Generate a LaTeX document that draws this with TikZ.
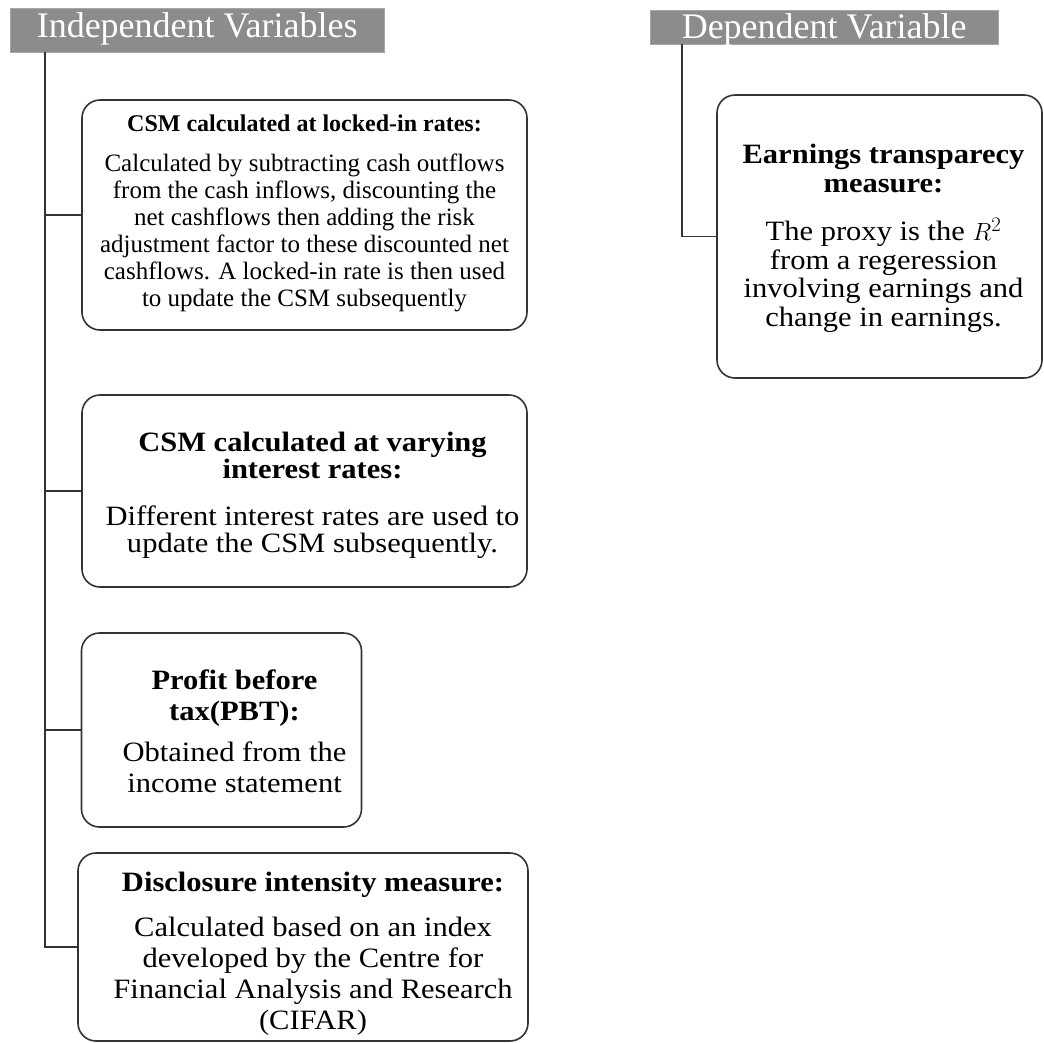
\documentclass[tikz,border=0pt]{standalone}
\usepackage{fontspec}
\setmainfont{Liberation Serif}
\newfontfamily\widefont{Liberation Serif}[FakeStretch=1.09]
\begin{document}
\begin{tikzpicture}[x=1pt,y=-1pt,
  hdr/.style={fill=black!45, draw=black!35, text=white, inner xsep=0pt, inner ysep=0pt, anchor=north west,
    font=\fontsize{36}{38}\selectfont},
  vbox/.style={draw=black!80, line width=1.6pt, rounded corners=18pt, inner sep=0pt},
  vtext/.style={align=center, inner sep=0pt},
  link/.style={draw=black!80, line width=1.3pt}
]
\useasboundingbox (0,0) rectangle (1044,1042);

\node[hdr, minimum width=374pt, minimum height=44pt, text height=25pt, text depth=10pt] (h1) at (10,8) {Independent Variables};
\node[hdr, minimum width=348pt, minimum height=34pt, text height=28pt, text depth=6pt] (h2) at (650,10) {Dependent Variable};

% boxes
\node[vbox, minimum width=445pt, minimum height=230pt] (b1) at (304.5,215) {};
\node[vbox, minimum width=445pt, minimum height=192pt] (b2) at (304.5,491) {};
\node[vbox, minimum width=280pt, minimum height=194pt] (b3) at (221.5,730) {};
\node[vbox, minimum width=450pt, minimum height=188pt] (b4) at (303,947) {};
\node[vbox, minimum width=325pt, minimum height=283pt] (b5) at (879.5,236.5) {};

% texts
\node[vtext, font=\fontsize{25}{27}\selectfont] (t1) at ([yshift=2pt]b1.center)
 {{\fontsize{24}{27}\selectfont\textbf{CSM calculated at locked-in rates:}}\\[13pt]
  Calculated by subtracting cash outflows\\ from the cash inflows, discounting the\\
  net cashflows then adding the risk\\ adjustment factor to these discounted net\\
  cashflows. A locked-in rate is then used\\ to update the CSM subsequently};

\node[vtext, font=\widefont\fontsize{28}{27}\selectfont] (t2) at ([xshift=8pt,yshift=-4pt]b2.center)
 {\textbf{CSM calculated at varying}\\ \textbf{interest rates:}\\[20pt]
  Different interest rates are used to\\ update the CSM subsequently.};

\node[vtext, font=\widefont\fontsize{28}{31}\selectfont] (t3) at ([xshift=13pt,yshift=-1pt]b3.center)
 {\textbf{Profit before}\\ \textbf{tax(PBT):}\\[10pt]
  Obtained from the\\ income statement};

\node[vtext, font=\widefont\fontsize{28}{31}\selectfont] (t4) at ([xshift=10pt,yshift=-7pt]b4.center)
 {\textbf{Disclosure intensity measure:}\\[14pt]
  Calculated based on an index\\ developed by the Centre for\\
  Financial Analysis and Research\\ (CIFAR)};

\node[vtext, font=\widefont\fontsize{28}{28.5}\selectfont] (t5) at ([xshift=4pt,yshift=-2pt]b5.center)
 {\textbf{Earnings transparecy}\\ \textbf{measure:}\\[20pt]
  The proxy is the $R^{2}$\\ from a regeression\\ involving earnings and\\ change in earnings.};

\coordinate (lt) at (45,52);
\coordinate (rt) at (682,44);
\draw[link] (lt) |- (b4.west);
\draw[link] (b1.west) -- (b1.west -| lt);
\draw[link] (b2.west) -- (b2.west -| lt);
\draw[link] (b3.west) -- (b3.west -| lt);
\draw[link] (rt) |- (b5.west);
\end{tikzpicture}
\end{document}
